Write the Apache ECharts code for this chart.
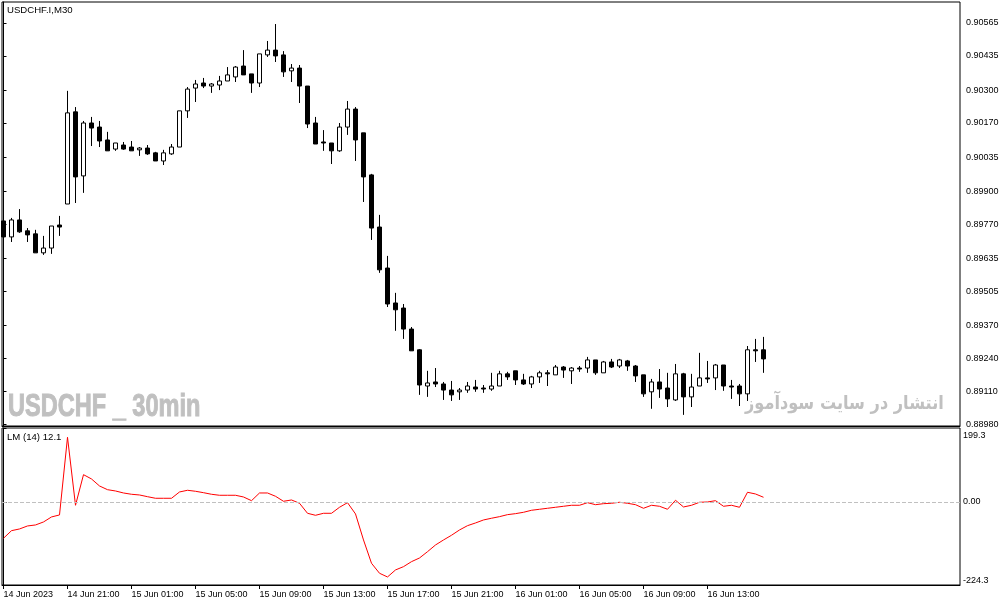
<!DOCTYPE html>
<html>
<head>
<meta charset="utf-8">
<style>html,body{margin:0;background:#fff}#chart{width:1005px;height:606px}</style>
<script src="https://cdn.jsdelivr.net/npm/echarts@6/dist/echarts.min.js"></script>
</head>
<body>
<div id="chart"></div>
<script>
// USDCHF M30 candles
let opens = [
  0.89783,0.89720,0.89787,0.89744,0.89732,0.89657,0.89676,0.89767,0.89850,0.90214,0.89961,0.90170,
  0.90154,0.90103,0.90067,0.90083,0.90075,0.90064,0.90071,0.90052,0.90020,0.90048,0.90075,0.90218,
  0.90308,0.90328,0.90316,0.90320,0.90336,0.90352,0.90395,0.90364,0.90328,0.90439,0.90458,0.90439,
  0.90376,0.90387,0.90316,0.90170,0.90095,0.90091,0.90060,0.90154,0.90225,0.90131,0.89965,0.89759,
  0.89597,0.89459,0.89439,0.89356,0.89274,0.89131,0.89147,0.89139,0.89115,0.89108,0.89115,0.89127,
  0.89123,0.89119,0.89131,0.89179,0.89191,0.89155,0.89139,0.89167,0.89183,0.89175,0.89206,0.89191,
  0.89202,0.89202,0.89234,0.89183,0.89226,0.89210,0.89230,0.89210,0.89175,0.89108,0.89147,0.89123,
  0.89076,0.89179,0.89088,0.89131,0.89163,0.89163,0.89214,0.89131,0.89131,0.89100,0.89274,0.89274
];
let closes = [
  0.89720,0.89787,0.89740,0.89728,0.89657,0.89676,0.89763,0.89759,0.90210,0.89957,0.90170,0.90150,
  0.90099,0.90060,0.90091,0.90067,0.90060,0.90071,0.90048,0.90020,0.90052,0.90075,0.90218,0.90304,
  0.90324,0.90316,0.90324,0.90336,0.90360,0.90391,0.90360,0.90328,0.90443,0.90458,0.90435,0.90372,
  0.90387,0.90316,0.90166,0.90087,0.90091,0.90060,0.90154,0.90225,0.90103,0.89957,0.89755,0.89590,
  0.89455,0.89432,0.89356,0.89270,0.89135,0.89143,0.89139,0.89115,0.89096,0.89115,0.89131,0.89119,
  0.89119,0.89131,0.89179,0.89167,0.89155,0.89139,0.89167,0.89183,0.89179,0.89206,0.89194,0.89202,
  0.89198,0.89234,0.89183,0.89226,0.89206,0.89234,0.89210,0.89171,0.89100,0.89147,0.89119,0.89080,
  0.89179,0.89088,0.89127,0.89163,0.89159,0.89214,0.89131,0.89127,0.89100,0.89274,0.89270,0.89238
];
let lows = [
  0.89696,0.89700,0.89736,0.89700,0.89657,0.89649,0.89653,0.89724,0.89850,0.89854,0.89894,0.90079,
  0.90075,0.90060,0.90060,0.90064,0.90060,0.90040,0.90044,0.90020,0.90004,0.90044,0.90075,0.90190,
  0.90253,0.90308,0.90289,0.90300,0.90336,0.90332,0.90360,0.90289,0.90312,0.90431,0.90411,0.90352,
  0.90332,0.90249,0.90150,0.90087,0.90060,0.90008,0.90056,0.90123,0.90020,0.89858,0.89708,0.89578,
  0.89443,0.89349,0.89317,0.89270,0.89096,0.89088,0.89127,0.89076,0.89072,0.89076,0.89104,0.89108,
  0.89104,0.89112,0.89131,0.89155,0.89135,0.89135,0.89123,0.89143,0.89131,0.89175,0.89163,0.89139,
  0.89187,0.89183,0.89175,0.89183,0.89202,0.89202,0.89191,0.89147,0.89088,0.89041,0.89084,0.89048,
  0.89072,0.89017,0.89048,0.89131,0.89143,0.89115,0.89112,0.89080,0.89052,0.89072,0.89226,0.89183
];
let highs = [
  0.89830,0.89795,0.89830,0.89755,0.89748,0.89724,0.89763,0.89803,0.90297,0.90233,0.90178,0.90194,
  0.90178,0.90135,0.90091,0.90095,0.90099,0.90075,0.90083,0.90056,0.90064,0.90087,0.90218,0.90312,
  0.90340,0.90348,0.90328,0.90356,0.90391,0.90395,0.90458,0.90364,0.90443,0.90494,0.90561,0.90454,
  0.90403,0.90399,0.90316,0.90194,0.90142,0.90091,0.90170,0.90257,0.90233,0.90131,0.89969,0.89807,
  0.89645,0.89499,0.89455,0.89364,0.89277,0.89191,0.89202,0.89147,0.89151,0.89123,0.89147,0.89155,
  0.89135,0.89183,0.89191,0.89187,0.89191,0.89179,0.89171,0.89191,0.89194,0.89214,0.89210,0.89206,
  0.89210,0.89246,0.89234,0.89230,0.89238,0.89238,0.89234,0.89214,0.89175,0.89159,0.89198,0.89183,
  0.89218,0.89183,0.89179,0.89262,0.89230,0.89218,0.89214,0.89155,0.89139,0.89289,0.89317,0.89325
];
// LM (14) indicator
let lmValues = [
  -98.2,-77.7,-73.1,-65.0,-62.3,-54.2,-40.7,-35.3,174.3,-9.2,73.4,61.8,
  42.9,32.9,29.4,24.0,20.5,18.6,14.0,9.7,9.7,9.7,26.7,31.3,
  28.6,24.8,20.5,17.8,17.8,17.8,13.2,3.2,24.0,24.0,15.1,1.6,
  5.1,-3.8,-30.8,-36.2,-30.8,-30.8,-14.6,-2.2,-32.6,-102.8,-165.7,-192.6,
  -202.6,-183.7,-174.8,-161.3,-151.4,-134.4,-116.3,-102.8,-90.1,-75.8,-64.2,-56.9,
  -48.8,-44.2,-39.9,-34.5,-31.8,-28.1,-22.7,-20.0,-17.3,-14.6,-11.9,-9.2,
  -9.2,-2.2,-7.6,-4.9,-3.8,-1.1,-3.8,-7.6,-17.3,-9.2,-11.9,-20.0,
  4.3,-13.8,-9.2,-1.1,-0.3,3.2,-11.9,-9.2,-14.6,25.9,21.3,12.4
];
let priceTicks = [0.90565,0.90435,0.90300,0.90170,0.90035,0.89900,0.89770,0.89635,0.89505,0.89370,0.89240,0.89110,0.88980];
let lmTicks = [-224.3, 0, 199.3];
let timeTicks = [0, 8, 16, 24, 32, 40, 48, 56, 64, 72, 80, 88];
let timeLabels = ['14 Jun 2023','14 Jun 21:00','15 Jun 01:00','15 Jun 05:00','15 Jun 09:00','15 Jun 13:00',
  '15 Jun 17:00','15 Jun 21:00','16 Jun 01:00','16 Jun 05:00','16 Jun 09:00','16 Jun 13:00'];

let uiFont = '"Liberation Sans", Arial, sans-serif';
let inkColor = '#000';
let markColor = '#c0c0c0';

let candleData = opens.map((o, i) => [i, o, closes[i], lows[i], highs[i]]);
let lmData = lmValues.map((v, i) => [i, v]);

let myChart = echarts.init(document.getElementById('chart'), null, {renderer: 'canvas'});

// bars are 8px apart, the first one sits just right of the frame
let xMin = -0.1875, xMax = 119.5625;

let xAxisBase = {
  type: 'value', min: xMin, max: xMax,
  splitLine: {show: false},
  axisLine: {onZero: false, lineStyle: {color: inkColor, width: 1}},
};

let titleText = {fontFamily: uiFont, fontSize: 9.6, fontWeight: 'normal', color: '#000'};

let option = {
  animation: false,
  backgroundColor: '#fff',
  title: [
    {text: 'USDCHF.I,M30', left: 7, top: 5, padding: 0, textStyle: titleText},
    {text: 'LM (14) 12.1', left: 7, top: 432, padding: 0, textStyle: titleText},
  ],
  graphic: [
    {
      type: 'text', x: 8, y: 392, scaleX: 0.76, silent: true, z: 1,
      style: {text: 'USDCHF _ 30min', font: 'bold 31px "Liberation Sans"', fill: markColor, stroke: markColor, lineWidth: 1},
    },
    {
      type: 'text', x: 745, y: 395, scaleX: 0.85, silent: true, z: 1,
      style: {text: 'انتشار در سایت سودآموز', font: 'bold 19px "DejaVu Sans"', fill: markColor},
    },
  ],
  grid: [
    {left: 2, top: 2, width: 958, height: 424, show: true, borderColor: inkColor, borderWidth: 1},
    {left: 2, top: 428, width: 958, height: 157, show: true, borderColor: inkColor, borderWidth: 1},
  ],
  xAxis: [
    Object.assign({}, xAxisBase, {gridIndex: 0, axisTick: {show: false}, axisLabel: {show: false}}),
    Object.assign({}, xAxisBase, {
      gridIndex: 1,
      axisTick: {show: true, length: 4, lineStyle: {color: inkColor}, customValues: timeTicks},
      axisLabel: {
        show: true, margin: 5, align: 'left', hideOverlap: false,
        fontFamily: uiFont, fontSize: 9, color: '#000',
        customValues: timeTicks,
        formatter: v => timeLabels[timeTicks.indexOf(v)],
      },
    }),
  ],
  yAxis: [
    {
      type: 'value', gridIndex: 0, position: 'right',
      min: 0.88973, max: 0.90648,
      splitLine: {show: false},
      axisLine: {show: true, lineStyle: {color: inkColor}},
      axisTick: {show: true, length: 3, lineStyle: {color: inkColor}, customValues: priceTicks},
      axisLabel: {
        margin: 6, fontFamily: uiFont, fontSize: 9, color: '#000',
        customValues: priceTicks,
        formatter: v => v.toFixed(5),
      },
    },
    {
      type: 'value', gridIndex: 1, position: 'right',
      min: -224.3, max: 199.3,
      splitLine: {show: false},
      axisLine: {show: true, lineStyle: {color: inkColor}},
      axisTick: {show: true, length: 3, lineStyle: {color: inkColor}, customValues: lmTicks},
      axisLabel: {
        margin: 3, fontFamily: uiFont, fontSize: 9, color: '#000',
        customValues: lmTicks,
        verticalAlignMinLabel: 'bottom', verticalAlignMaxLabel: 'top',
        formatter: v => v === 0 ? '0.00' : (v > 0 ? '{top|' + v.toFixed(1) + '}' : v.toFixed(1)),
        rich: {top: {padding: [3, 0, 0, 0], fontFamily: uiFont, fontSize: 9, color: '#000'}},
      },
    },
  ],
  series: [
    {
      type: 'candlestick',
      xAxisIndex: 0, yAxisIndex: 0,
      barWidth: 4,
      data: candleData,
      itemStyle: {color: '#fff', color0: '#000', borderColor: '#000', borderColor0: '#000', borderWidth: 1},
    },
    {
      type: 'line',
      xAxisIndex: 1, yAxisIndex: 1,
      data: lmData,
      showSymbol: false,
      lineStyle: {color: '#f00', width: 1},
      markLine: {
        silent: true, symbol: 'none', label: {show: false},
        lineStyle: {color: markColor, type: 'dashed', width: 1},
        data: [{yAxis: 0}],
      },
    },
  ],
};

myChart.setOption(option);
</script>
</body>
</html>
